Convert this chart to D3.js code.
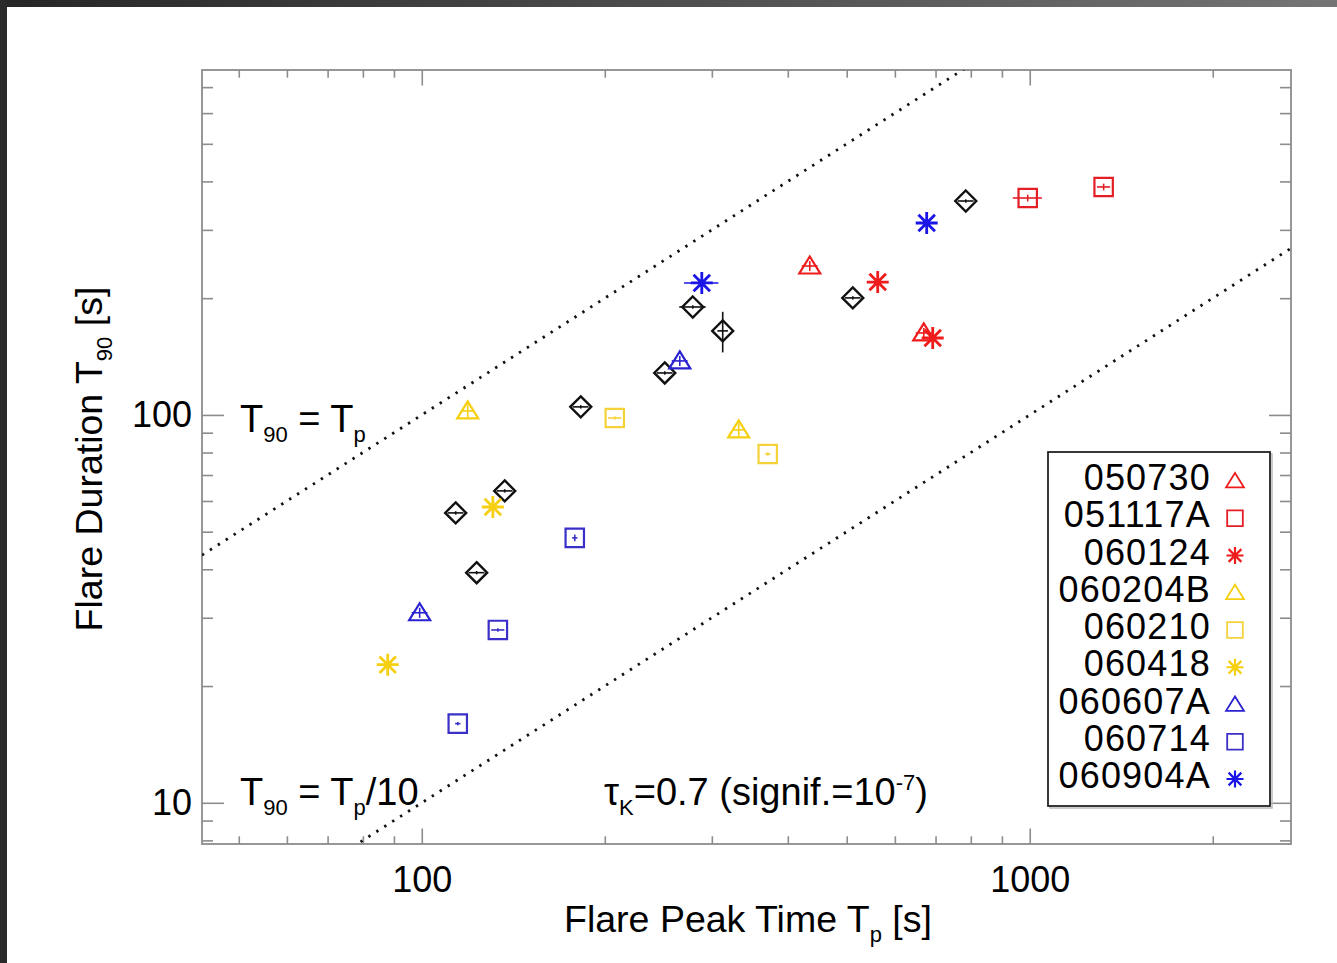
<!DOCTYPE html>
<html>
<head>
<meta charset="utf-8">
<script src="https://cdn.jsdelivr.net/npm/d3@7"></script>
<style>
  html, body { margin: 0; padding: 0; background: #ffffff; }
  svg { display: block; }
  text { font-family: "Liberation Sans", Arial, Helvetica, sans-serif; fill: #000; }
</style>
</head>
<body>
<svg id="chart" width="1337" height="963"></svg>
<script>
// ---------------- DATA ----------------
const seriesNames = ["050730", "051117A", "060124", "060204B", "060210", "060418", "060607A", "060714", "060904A"];
const seriesShapes = ["triangle", "square", "asterisk", "triangle", "square", "asterisk", "triangle", "square", "asterisk"];
const seriesColors = ["#ee1c1c", "#e31e24", "#ee1c1c", "#f5cf10", "#f5d23a", "#f5cf10", "#2a22d0", "#3a30c8", "#1a14e6"];

// Flare peak time Tp [s] per series
const tpValues = [
  [434.7, 669.4],
  [992.4, 1323],
  [562.3, 692.5],
  [119.0, 332.1],
  [207.7, 370.7],
  [130.9, 87.9],
  [99.2, 265.7],
  [178.5, 133.4, 114.6],
  [288.8, 676.9]
];
// Flare duration T90 [s] per series
const t90Values = [
  [242.1, 162.7],
  [362.5, 387.0],
  [220.1, 157.9],
  [102.4, 91.5],
  [98.2, 79.3],
  [57.9, 22.7],
  [30.9, 137.8],
  [48.2, 27.9, 16.0],
  [218.9, 312.5]
];
// fractional errors
const tpErrValues = [
  [0.03, 0.03],
  [0.055, 0.025],
  [0.0, 0.0],
  [0.02, 0.02],
  [0.025, 0.01],
  [0.0, 0.0],
  [0.03, 0.03],
  [0.01, 0.025, 0.01],
  [0.065, 0.0]
];
const t90ErrValues = [
  [0.03, 0.03],
  [0.02, 0.02],
  [0.0, 0.0],
  [0.04, 0.04],
  [0.01, 0.01],
  [0.0, 0.0],
  [0.03, 0.03],
  [0.02, 0.01, 0.01],
  [0.0, 0.0]
];

// Other flares (black diamonds, no legend entry)
const otherTp  = [113.7, 123.1, 136.9, 182.6, 251.0, 279.1, 312.6, 511.6, 784.9];
const otherT90 = [55.9, 39.2, 63.7, 104.9, 128.3, 189.8, 164.7, 200.3, 356.1];
const otherTpErr  = [0.03, 0.03, 0.03, 0.03, 0.03, 0.05, 0.02, 0.03, 0.03];
const otherT90Err = [0.01, 0.01, 0.01, 0.01, 0.01, 0.01, 0.12, 0.01, 0.01];

const xTickMajor = [100, 1000];
const xTickMinor = [50, 60, 70, 80, 90, 200, 300, 400, 500, 600, 700, 800, 900, 2000];
const yTickMajor = [10, 100];
const yTickMinor = [8, 9, 20, 30, 40, 50, 60, 70, 80, 90, 200, 300, 400, 500, 600, 700];

const xDomain = [43.5, 2690];
const yDomain = [7.83, 775];
const ratioLines = [1, 0.1];

// ---------------- LAYOUT ----------------
const svg = d3.select("#chart");
const L = 202, R = 1291, T = 70, B = 844;
const x = d3.scaleLog().domain(xDomain).range([L, R]);
const y = d3.scaleLog().domain(yDomain).range([B, T]);
const tickFont = 36;
const font = 38;

// dark frame edges of the screenshot
const defs = svg.append("defs");
const grad = defs.append("linearGradient").attr("id", "topbar").attr("x1", "0").attr("x2", "1");
grad.append("stop").attr("offset", "0").attr("stop-color", "#262626");
grad.append("stop").attr("offset", "1").attr("stop-color", "#757575");
svg.append("rect").attr("x", 0).attr("y", 0).attr("width", 1337).attr("height", 7).attr("fill", "url(#topbar)");
svg.append("rect").attr("x", 0).attr("y", 0).attr("width", 7).attr("height", 963).attr("fill", "#2a2a2a");

defs.append("clipPath").attr("id", "plotclip")
  .append("rect").attr("x", L).attr("y", T).attr("width", R - L).attr("height", B - T);

// ---------------- AXES ----------------
const axisColor = "#8c8c8c";
function styleAxis(g) {
  g.select(".domain").remove();
  g.selectAll(".tick line").attr("stroke", axisColor).attr("stroke-width", 1.6);
  g.selectAll(".tick text").attr("font-size", tickFont).attr("font-family", "Liberation Sans, Arial, sans-serif").attr("fill", "#000");
}
const xMajLen = 15.5, xMinLen = 7.7, yMajLen = 22, yMinLen = 11;

svg.append("g").attr("transform", `translate(0,${B})`)
  .call(d3.axisBottom(x).tickValues(xTickMajor).tickSizeInner(-xMajLen).tickSizeOuter(0).tickPadding(22).tickFormat(d3.format("d")))
  .call(styleAxis);
svg.append("g").attr("transform", `translate(0,${B})`)
  .call(d3.axisBottom(x).tickValues(xTickMinor).tickSizeInner(-xMinLen).tickSizeOuter(0).tickFormat(""))
  .call(styleAxis);
svg.append("g").attr("transform", `translate(0,${T})`)
  .call(d3.axisTop(x).tickValues(xTickMajor).tickSizeInner(-xMajLen).tickSizeOuter(0).tickFormat(""))
  .call(styleAxis);
svg.append("g").attr("transform", `translate(0,${T})`)
  .call(d3.axisTop(x).tickValues(xTickMinor).tickSizeInner(-xMinLen).tickSizeOuter(0).tickFormat(""))
  .call(styleAxis);

svg.append("g").attr("transform", `translate(${L},0)`)
  .call(d3.axisLeft(y).tickValues(yTickMajor).tickSizeInner(-yMajLen).tickSizeOuter(0).tickPadding(10).tickFormat(d3.format("d")))
  .call(styleAxis);
svg.append("g").attr("transform", `translate(${L},0)`)
  .call(d3.axisLeft(y).tickValues(yTickMinor).tickSizeInner(-yMinLen).tickSizeOuter(0).tickFormat(""))
  .call(styleAxis);
svg.append("g").attr("transform", `translate(${R},0)`)
  .call(d3.axisRight(y).tickValues(yTickMajor).tickSizeInner(-yMajLen).tickSizeOuter(0).tickFormat(""))
  .call(styleAxis);
svg.append("g").attr("transform", `translate(${R},0)`)
  .call(d3.axisRight(y).tickValues(yTickMinor).tickSizeInner(-yMinLen).tickSizeOuter(0).tickFormat(""))
  .call(styleAxis);

svg.append("rect").attr("x", L).attr("y", T).attr("width", R - L).attr("height", B - T)
  .attr("fill", "none").attr("stroke", axisColor).attr("stroke-width", 1.8);

// ---------------- RATIO LINES ----------------
const lineGen = d3.line().x(d => x(d[0])).y(d => y(d[1]));
const plotG = svg.append("g").attr("clip-path", "url(#plotclip)");
ratioLines.forEach(r => {
  const pts = [[xDomain[0], xDomain[0] * r], [xDomain[1], xDomain[1] * r]];
  plotG.append("path").attr("d", lineGen(pts))
    .attr("fill", "none").attr("stroke", "#111").attr("stroke-width", 2.8)
    .attr("stroke-dasharray", "2.4,7");
});

// ---------------- MARKERS ----------------
function markerPath(shape, s) {
  if (shape === "triangle") {
    return `M${-s * 1.05},${s * 0.75} L${s * 1.05},${s * 0.75} L0,${-s * 0.95} Z`;
  } else if (shape === "square") {
    return `M${-s * 0.92},${-s * 0.92} H${s * 0.92} V${s * 0.92} H${-s * 0.92} Z`;
  } else if (shape === "diamond") {
    return `M0,${-s} L${s},0 L0,${s} L${-s},0 Z`;
  } else {
    const d = s * 0.75;
    return `M${-s},0 H${s} M0,${-s} V${s} M${-d},${-d} L${d},${d} M${-d},${d} L${d},${-d}`;
  }
}

function drawPoint(g, tp, t90, ex, ey, shape, color, size, sw) {
  const cx = x(tp), cy = y(t90);
  if (ex > 0) {
    g.append("line").attr("x1", x(tp * (1 - ex))).attr("x2", x(tp * (1 + ex)))
      .attr("y1", cy).attr("y2", cy).attr("stroke", color).attr("stroke-width", 1.6);
  }
  if (ey > 0) {
    g.append("line").attr("x1", cx).attr("x2", cx)
      .attr("y1", y(t90 * (1 - ey))).attr("y2", y(t90 * (1 + ey))).attr("stroke", color).attr("stroke-width", 1.6);
  }
  g.append("path").attr("d", markerPath(shape, shape === "asterisk" ? size * 1.1 : size))
    .attr("transform", `translate(${cx},${cy})`)
    .attr("fill", "none").attr("stroke", color).attr("stroke-width", shape === "asterisk" ? sw + 0.6 : sw)
    .attr("stroke-linejoin", "miter");
}

const ptsG = svg.append("g").attr("clip-path", "url(#plotclip)");
otherTp.forEach((tp, i) => drawPoint(ptsG, tp, otherT90[i], otherTpErr[i], otherT90Err[i], "diamond", "#111", 10.5, 2.4));
seriesNames.forEach((name, si) => {
  tpValues[si].forEach((tp, i) => {
    drawPoint(ptsG, tp, t90Values[si][i], tpErrValues[si][i], t90ErrValues[si][i],
      seriesShapes[si], seriesColors[si], 10, 2.2);
  });
});

// ---------------- TEXT ----------------
function richText(parent, xPos, yPos, parts, anchor, fsz) {
  const base = fsz || font;
  const t = parent.append("text").attr("x", xPos).attr("y", yPos)
    .attr("font-size", base).attr("text-anchor", anchor || "start");
  let shift = 0;
  parts.forEach(p => {
    const span = t.append("tspan").text(p.t);
    let target = 0, fs = base;
    if (p.sub) { target = 10; fs = 22; }
    if (p.sup) { target = -15; fs = 22; }
    span.attr("font-size", fs).attr("dy", target - shift);
    shift = target;
  });
  return t;
}

richText(svg, 748, 932, [{t: "Flare Peak Time T"}, {t: "p", sub: true}, {t: " [s]"}], "middle", 37.5);

const yTitle = svg.append("g").attr("transform", "translate(102,459) rotate(-90)");
richText(yTitle, 0, 0, [{t: "Flare Duration T"}, {t: "90", sub: true}, {t: " [s]"}], "middle", 37.5);

richText(svg, 240, 432, [{t: "T"}, {t: "90", sub: true}, {t: " = T"}, {t: "p", sub: true}]);
richText(svg, 240, 805, [{t: "T"}, {t: "90", sub: true}, {t: " = T"}, {t: "p", sub: true}, {t: "/10"}]);
richText(svg, 604, 805, [{t: "τ"}, {t: "K", sub: true}, {t: "=0.7 (signif.=10"}, {t: "-7", sup: true}, {t: ")"}]);

// ---------------- LEGEND ----------------
const lg = svg.append("g");
const lgX = 1048, lgY = 452, lgW = 222, lgH = 354;
lg.append("rect").attr("x", lgX + 2).attr("y", lgY + 2).attr("width", lgW).attr("height", lgH)
  .attr("fill", "none").attr("stroke", "#bbb").attr("stroke-width", 1.5);
lg.append("rect").attr("x", lgX).attr("y", lgY).attr("width", lgW).attr("height", lgH)
  .attr("fill", "#fff").attr("stroke", "#222").attr("stroke-width", 1.8);
const rowY = d3.scaleLinear().domain([0, seriesNames.length - 1]).range([478, 776]);
seriesNames.forEach((name, i) => {
  lg.append("text").attr("x", 1211).attr("y", rowY(i) + 12).attr("text-anchor", "end")
    .attr("font-size", 36).attr("letter-spacing", 1.2).text(name);
  lg.append("path").attr("d", markerPath(seriesShapes[i], 8.5))
    .attr("transform", `translate(1235,${rowY(i) + 3})`)
    .attr("fill", "none").attr("stroke", seriesColors[i])
    .attr("stroke-width", seriesShapes[i] === "asterisk" ? 2.2 : 1.8);
});
</script>
</body>
</html>
